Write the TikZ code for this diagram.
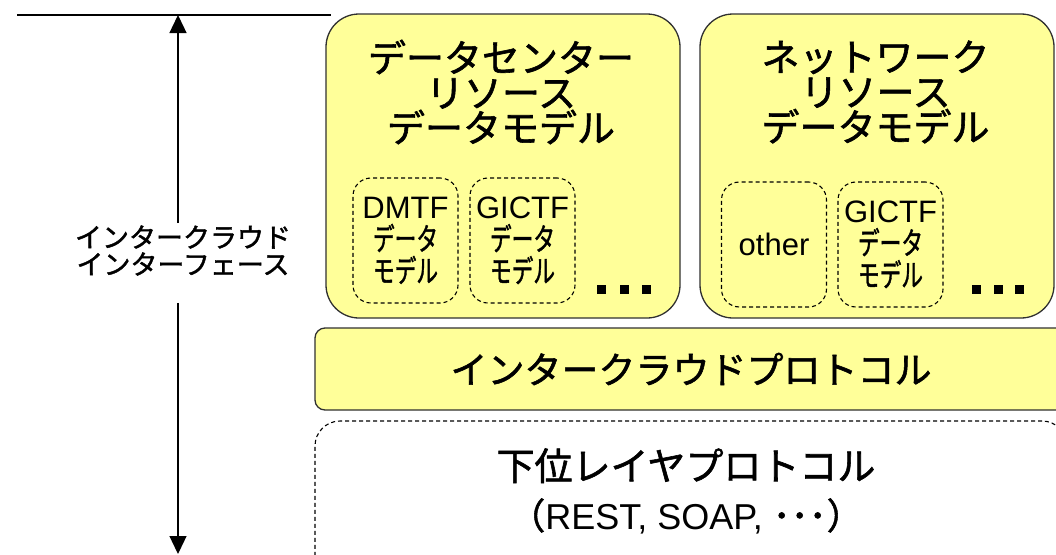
\documentclass[tikz,border=0pt]{standalone}
\usepackage{fontspec}
\usepackage{graphicx}
\setmainfont{Liberation Sans}
\newfontfamily\jp[FakeBold=1.5]{Noto Sans CJK JP}
\usetikzlibrary{arrows.meta}
\definecolor{boxyellow}{HTML}{FFFF99}
\definecolor{edgegray}{HTML}{303030}
\newcommand\jpsmall[1]{{\jp\fontsize{31}{32}\selectfont\scalebox{0.7}[1]{#1}}}
\begin{document}
\begin{tikzpicture}[x=1pt,y=-1pt,
  bigbox/.style={draw=edgegray, line width=1.3pt, fill=boxyellow, rounded corners=33pt,
    minimum width=354pt, minimum height=304pt, inner sep=0pt},
  titletext/.style={font=\jp\fontsize{38}{35}\selectfont, align=center, inner sep=0pt},
  subbox/.style={draw=black, line width=1.1pt, dash pattern=on 4pt off 3pt, rounded corners=18pt,
    minimum width=105pt, minimum height=125pt, inner sep=0pt, align=center,
    font=\fontsize{31}{32}\selectfont},
  dotsq/.style={fill=black},
  arr/.style={line width=1.3pt, -{Triangle[width=17pt,length=18pt]}},
]
\useasboundingbox (0,0) rectangle (1056,554);
\clip (0,0) rectangle (1056,554);

% top line and interface arrow
\coordinate (lineL) at (17,15);
\coordinate (lineR) at (331,15);
\draw[line width=1.5pt] (lineL) -- (lineR);
\coordinate (top) at (178,15);
\coordinate (bot) at (178,554);
\node[font=\jp\fontsize{27}{27}\selectfont, align=center, inner sep=0pt] (lbl) at (183,250.5)
  {インタークラウド\\インターフェース};
\draw[arr] ([yshift=2pt]top |- lbl.north) -- (top);
\draw[arr] ([yshift=-27pt]top |- lbl.south) -- (bot);

% data center resource box
\node[bigbox] (dc) at (503,166) {};
\node[titletext] (dct) at (501,92) {データセンター\\リソース\\データモデル};
\node[subbox] (dmtf) at (405.5,240.5) {DMTF\\\jpsmall{データ}\\\jpsmall{モデル}};
\node[subbox] (gictf1) at (522.5,240.5) {GICTF\\\jpsmall{データ}\\\jpsmall{モデル}};
\fill[dotsq] (597,285) rectangle +(9,9);
\fill[dotsq] (619.5,285) rectangle +(9,9);
\fill[dotsq] (642,285) rectangle +(9,9);

% network resource box
\node[bigbox] (nw) at (877,166) {};
\node[titletext] (nwt) at (875.5,92) {ネットワーク\\リソース\\データモデル};
\node[subbox] (other) at (774,244.5) {other};
\node[subbox] (gictf2) at (890.5,244.5) {GICTF\\\jpsmall{データ}\\\jpsmall{モデル}};
\fill[dotsq] (972,285) rectangle +(9,9);
\fill[dotsq] (993.5,285) rectangle +(9,9);
\fill[dotsq] (1015,285) rectangle +(9,9);

% intercloud protocol
\node[draw=edgegray, line width=1.3pt, fill=boxyellow, rounded corners=10pt,
  minimum width=752pt, minimum height=82pt, inner sep=0pt,
  font=\jp\fontsize{37}{37}\selectfont] (icp) at (691,369) {インタークラウドプロトコル};

% lower layer protocol
\node[draw=black, line width=1.1pt, dash pattern=on 4pt off 3pt, rounded corners=25pt,
  minimum width=752pt, minimum height=169pt, inner sep=0pt] (llp) at (691,505.5) {};
\node[align=center, inner sep=0pt, font=\fontsize{36}{49}\selectfont] (llpt) at (686,491)
  {{\jp\fontsize{38}{49}\selectfont 下位レイヤプロトコル}\\
   {\jp （}REST, SOAP, {\jp ･･･）}};
\end{tikzpicture}
\end{document}
